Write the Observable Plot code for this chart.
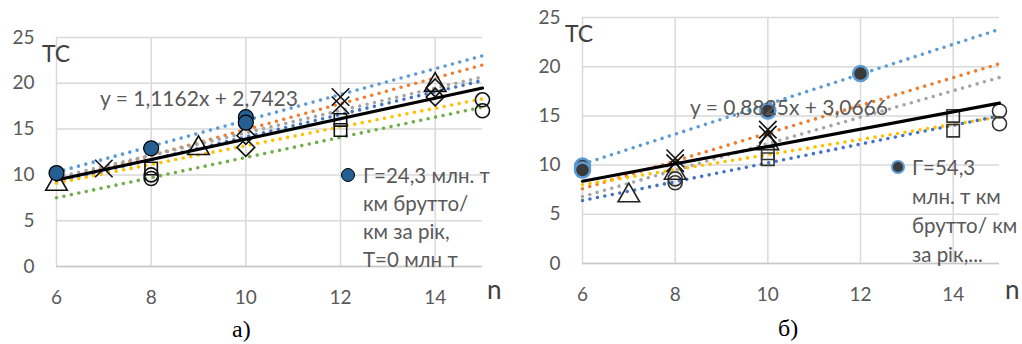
<!DOCTYPE html>
<html><head><meta charset="utf-8">
<script src="https://cdn.jsdelivr.net/npm/d3@7"></script>
<script src="https://cdn.jsdelivr.net/npm/@observablehq/plot@0.6"></script>
<style>
body{margin:0;background:#fff;}
#wrap{position:relative;width:1022px;height:344px;overflow:hidden;font-family:Lato,"Open Sans",sans-serif;}
.pane{position:absolute;top:0;}
.t{position:absolute;white-space:nowrap;color:#595959;line-height:1;font-size:20px;}
.serif{font-family:"Liberation Serif","DejaVu Serif",serif;color:#000;font-size:24px;}
.mk{position:absolute;border-radius:50%;box-sizing:border-box;}
</style></head><body>
<div id="wrap">
  <div class="pane" id="pa" style="left:0"></div>
  <div class="pane" id="pb" style="left:510px"></div>
  <div class="t" style="left:42px;top:42px;font-size:23px;color:#404040">ТС</div>
  <div class="t" style="left:100px;top:87px;font-size:21px">y = 1,1162x + 2,7423</div>
  <div class="mk" style="left:341px;top:168px;width:14px;height:14px;background:#255e91;border:1.2px solid #000"></div>
  <div class="t" style="left:363px;top:161px;line-height:28px;font-size:20.5px">Г=24,3 млн. т<br>км брутто/<br>км за рік,<br>Т=0 млн т</div>
  <div class="t" style="left:487px;top:276px;font-size:26px;color:#404040">n</div>
  <div class="t serif" style="left:232px;top:317px">а)</div>

  <div class="t" style="left:565px;top:22px;font-size:23px;color:#404040">ТС</div>
  <div class="t" style="left:690px;top:96px;font-size:21px">y = 0,8825x + 3,0666</div>
  <div class="mk" style="left:891px;top:160px;width:14px;height:14px;background:#3a3a3a;border:2.5px solid #5b9bd5"></div>
  <div class="t" style="left:912px;top:153px;line-height:29px;font-size:20.5px">Г=54,3<br>млн. т км<br>брутто/ км<br>за рік,...</div>
  <div class="t" style="left:1005px;top:276px;font-size:26px;color:#404040">n</div>
  <div class="t serif" style="left:778px;top:316px">б)</div>
</div>
<script>
const xTicks = [6, 8, 10, 12, 14];
const yTicks = [0, 5, 10, 15, 20, 25];

// ---- chart а) ----
const aSlope = 1.1162, aIntercept = 2.7423;
const aTrendNames = ["blue", "orange", "gray", "darkblue", "yellow", "green"];
const aTrendAt6  = [10.3, 9.3, 9.7, 9.2, 9.1, 7.5];
const aTrendAt15 = [23.0, 22.0, 20.7, 20.3, 18.3, 17.4];
const aFilled   = [[6, 10.2], [8, 12.9], [10, 16.3], [10, 15.7]];
const aTriangle = [[6, 9.0], [9, 12.9], [14, 19.8]];
const aCross    = [[7, 10.7], [12, 18.5], [12, 17.6]];
const aCircle   = [[8, 9.6], [8, 10.0], [15, 18.2], [15, 17.0]];
const aDiamond  = [[10, 14.3], [10, 13.0], [14, 19.5], [14, 18.5]];
const aSquare   = [[12, 16.0], [12, 14.9], [8, 10.7]];

// ---- chart б) ----
const bSlope = 0.8825, bIntercept = 3.0666;
const bTrendNames = ["blue", "orange", "gray", "yellow", "darkblue"];
const bTrendAt6  = [10.1, 7.6, 6.8, 8.0, 6.4];
const bTrendAt15 = [23.8, 20.3, 18.9, 14.9, 15.0];
const bFilled   = [[6, 9.9], [6, 9.5], [10, 15.5], [12, 19.3]];
const bTriangle = [[7, 6.9], [8, 9.2], [10, 12.2]];
const bCross    = [[8, 10.7], [8, 10.2], [10, 13.6], [10, 13.1]];
const bCircle   = [[8, 8.2], [8, 8.6], [15, 15.5], [15, 14.2]];
const bSquare   = [[10, 10.6], [10, 11.2], [14, 15.0], [14, 13.5]];

const palette = {blue:"#5b9bd5", orange:"#ed7d31", gray:"#a5a5a5", darkblue:"#4472c4", yellow:"#ffc000", green:"#70ad47"};

function trendMarks(names, at6, at15) {
  return names.map((n, i) => Plot.line([[6, at6[i]], [15, at15[i]]], {
    x: d => d[0], y: d => d[1], stroke: palette[n], strokeWidth: 3.6,
    strokeDasharray: "0 7.6", strokeLinecap: "round"
  }));
}
function shape(data, symbol, opts) {
  return Plot.dot(data, Object.assign({x: d => d[0], y: d => d[1], symbol, r: 7, fill: "none", stroke: "#111", strokeWidth: 1.6}, opts || {}));
}
function chart(cfg) {
  return Plot.plot({
    width: cfg.width, height: 344,
    marginLeft: cfg.ml, marginRight: cfg.mr, marginTop: cfg.mt, marginBottom: cfg.mb,
    style: {fontFamily: "Lato, sans-serif", fontSize: "19px", background: "transparent", overflow: "visible"},
    x: {domain: [6, 15]}, y: {domain: [0, 25]},
    marks: [
      Plot.gridY(yTicks, {stroke: "#d9d9d9", strokeOpacity: 1, strokeWidth: 1.5}),
      Plot.gridX(xTicks, {stroke: "#d9d9d9", strokeOpacity: 1, strokeWidth: 1.5}),
      Plot.ruleY([0], {stroke: "#c8c8c8", strokeWidth: 1.5}),
      Plot.axisX(xTicks, {tickSize: 0, tickPadding: 24, fontSize: 19, fill: "#595959", label: null}),
      Plot.axisY(yTicks, {tickSize: 0, tickPadding: 22, fontSize: 19, fill: "#595959", label: null}),
      ...cfg.marks
    ]
  });
}

const trendA = Plot.line([6, 15], {x: d => d, y: d => aSlope * d + aIntercept, stroke: "#000", strokeWidth: 3.2});
const trendB = Plot.line([6, 15], {x: d => d, y: d => bSlope * d + bIntercept, stroke: "#000", strokeWidth: 3.2});

document.getElementById("pa").append(chart({
  width: 510, ml: 56, mr: 28, mt: 37, mb: 78,
  marks: [
    ...trendMarks(aTrendNames, aTrendAt6, aTrendAt15),
    shape(aSquare, "square"),
    shape(aCircle, "circle"),
    shape(aDiamond, "diamond2", {r: 8}),
    shape(aTriangle, "triangle", {r: 8}),
    shape(aCross, "times", {r: 8}),
    trendA,
    Plot.dot(aFilled, {x: d => d[0], y: d => d[1], r: 7.5, fill: "#255e91", stroke: "#000", strokeWidth: 1.2})
  ]
}));
document.getElementById("pb").append(chart({
  width: 512, ml: 72, mr: 23, mt: 17, mb: 81,
  marks: [
    ...trendMarks(bTrendNames, bTrendAt6, bTrendAt15),
    shape(bSquare, "square", {stroke: "#333"}),
    shape(bCircle, "circle", {stroke: "#333"}),
    shape(bTriangle, "triangle", {r: 8, stroke: "#222"}),
    shape(bCross, "times", {r: 8, stroke: "#111"}),
    trendB,
    Plot.dot(bFilled, {x: d => d[0], y: d => d[1], r: 7.5, fill: "#3a3a3a", stroke: "#5b9bd5", strokeWidth: 2.5})
  ]
}));
</script>
</body></html>
